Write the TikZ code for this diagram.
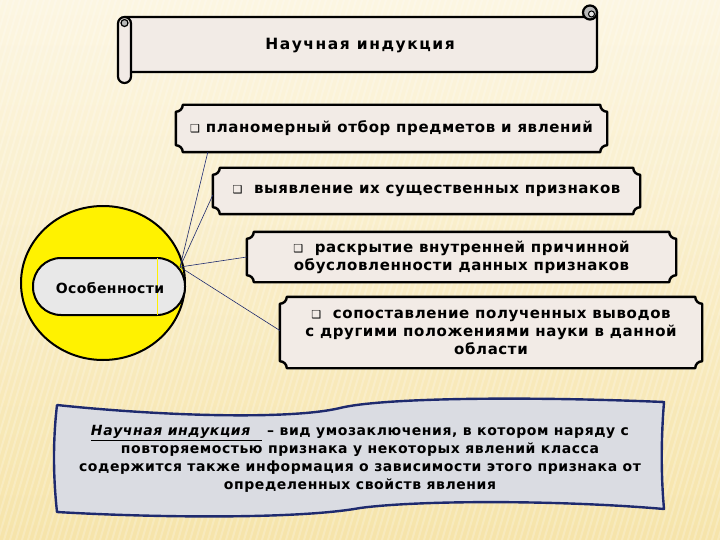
\documentclass[tikz,border=0pt]{standalone}
\usepackage{fontspec}
\setmainfont{DejaVu Sans}
\usetikzlibrary{calc,shapes.geometric}
\definecolor{bgtop}{RGB}{252,246,226}
\definecolor{bgbot}{RGB}{246,228,170}
\definecolor{plaquefill}{RGB}{242,235,230}
\definecolor{navy}{RGB}{30,42,110}
\definecolor{wavefill}{RGB}{218,220,226}
\definecolor{pillfill}{RGB}{232,232,232}
\pgfdeclarelayer{back}
\pgfdeclarelayer{mid}
\pgfsetlayers{back,mid,main}
\newcommand\plaque[1]{%
  \draw[plaquestyle] let \p1=(#1.north west), \p2=(#1.south east) in
    (\x1+7pt,\y1) -- (\x2-7pt,\y1) arc[start angle=180,end angle=270,radius=7pt]
    -- (\x2,\y2+7pt) arc[start angle=90,end angle=180,radius=7pt]
    -- (\x1+7pt,\y2) arc[start angle=0,end angle=90,radius=7pt]
    -- (\x1,\y1-7pt) arc[start angle=270,end angle=360,radius=7pt] -- cycle;}
\newcommand\bul{{\fontsize{11}{11}\selectfont ❑}}
\tikzset{
  plaquestyle/.style={draw=black,line width=2.4pt,fill=plaquefill,line join=round},
  boxnode/.style={draw=none,inner sep=0pt,align=center,font=\bfseries\fontsize{15}{18}\selectfont\addfontfeatures{LetterSpace=4}},
  conn/.style={draw=navy,line width=0.6pt},
}
\begin{document}
\begin{tikzpicture}[x=1pt,y=1pt]
\useasboundingbox (0,0) rectangle (720,-540);
\begin{pgfonlayer}{back}
  \shade[top color=bgtop,bottom color=bgbot] (0,0) rectangle (720,-540);
  \begin{scope}
    \clip (0,0) rectangle (720,-540);
    \foreach \i in {-200,-194,...,720}
      \draw[white,opacity=0.22,line width=2pt] (\i,-540) -- (\i+160,0);
  \end{scope}
\end{pgfonlayer}

% title scroll
\begin{pgfonlayer}{mid}
  \draw[line width=2.4pt,fill=plaquefill,line join=round]
    (125,-17) -- (590,-17) -- (597,-12) -- (597,-66) arc[start angle=0,end angle=-90,radius=6] -- (125,-72) -- cycle;
  \draw[line width=2.2pt,fill=gray!55] (590,-12.5) circle[radius=7];
  \draw[line width=1pt,fill=gray!20] (591.5,-14) circle[radius=3];
  \draw[line width=2.2pt,fill=plaquefill,rounded corners=6.5] (118,-17) rectangle (131,-83);
  \draw[line width=1.2pt,fill=gray!55] (124.5,-23) circle[radius=3.5];
\end{pgfonlayer}
\node[font=\bfseries\fontsize{15.5}{17}\selectfont\addfontfeatures{LetterSpace=10}] (title) at (360,-46) {Научная индукция};

% circle and pill
\node[ellipse,draw=black,line width=2pt,fill=yellow,minimum width=164,minimum height=154] (circ) at (103,-283) {};
\node[draw=black,line width=2pt,fill=pillfill,rounded corners=28,minimum width=152,minimum height=57,inner sep=0pt] (pill) at (109,-286.5) {};
\draw[yellow,line width=1pt] ($(pill.north)+(48,-1)$) -- ($(pill.south)+(48,1)$);
\node[font=\bfseries\fontsize{14}{16}\selectfont\addfontfeatures{LetterSpace=3}] (osob) at (110,-288) {Особенности};
\coordinate (hub) at (180,-267);

% boxes
\node[boxnode,minimum width=431,minimum height=47] (b1) at (391.5,-128.5)
  {\bul\ планомерный отбор предметов и явлений};
\node[boxnode,minimum width=427,minimum height=46] (b2) at (426.5,-191)
  {\bul\ \ выявление их существенных признаков};
\node[boxnode,minimum width=429,minimum height=50] (b3) at (461.5,-257)
  {\bul\ \ раскрытие внутренней причинной\\обусловленности данных признаков};
\node[boxnode,minimum width=422,minimum height=71] (b4) at (491,-332.5)
  {\bul\ \ сопоставление полученных выводов\\с другими положениями науки в данной\\области};
\begin{pgfonlayer}{mid}
  \plaque{b1}\plaque{b2}\plaque{b3}\plaque{b4}
\end{pgfonlayer}

\draw[conn] (hub) -- ($(b1.south west)+(32,0)$);
\draw[conn] (hub) -- ($(b2.west)+(0,-4)$);
\draw[conn] (hub) -- (b3.west);
\draw[conn] (hub) -- ($(b4.west)+(0,2)$);

% definition wave
\begin{pgfonlayer}{mid}
  \draw[draw=navy,line width=2.4pt,fill=wavefill,line join=round]
    (57,-405) .. controls (160,-416) and (290,-420) .. (340,-408)
    .. controls (380,-398) and (520,-396) .. (664,-402)
    .. controls (661,-440) and (661,-475) .. (664,-509)
    .. controls (560,-500) and (420,-500) .. (360,-508)
    .. controls (300,-519) and (160,-518) .. (57,-512)
    .. controls (53,-475) and (53,-440) .. (57,-405) -- cycle;
\end{pgfonlayer}
\node[align=center,font=\bfseries\fontsize{14}{18}\selectfont\addfontfeatures{LetterSpace=4}] (def) at (360,-459)
  {\underline{\textit{Научная индукция}\ \ }\ – вид умозаключения, в котором наряду с\\
   повторяемостью признака у некоторых явлений класса\\
   содержится также информация о зависимости этого признака от\\
   определенных свойств явления};
\end{tikzpicture}
\end{document}
